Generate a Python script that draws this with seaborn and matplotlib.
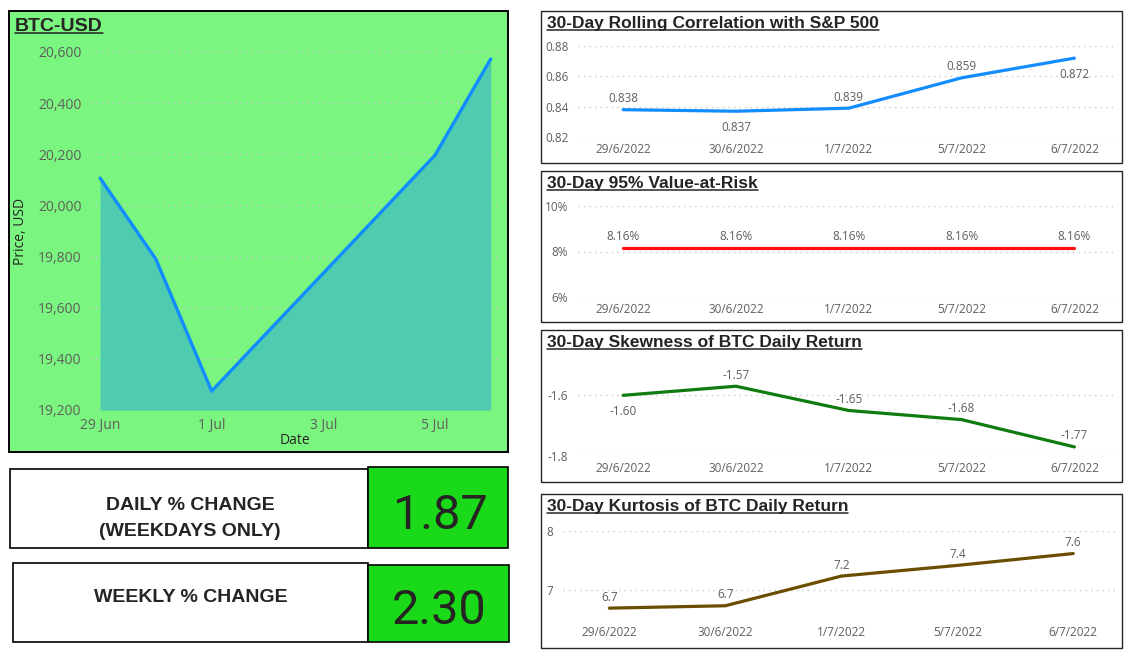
import numpy as np
import pandas as pd
import matplotlib
matplotlib.use("Agg")
import matplotlib.pyplot as plt
import matplotlib.dates as mdates
from matplotlib.patches import Rectangle
from matplotlib.lines import Line2D
from matplotlib.ticker import FuncFormatter
import seaborn as sns


# BTC price (left chart)
btc_dates = pd.to_datetime(["2022-06-29", "2022-06-30", "2022-07-01", "2022-07-05", "2022-07-06"])
btc_price = [20107, 19790, 19274, 20196, 20573]

# 30-day rolling stats (right charts)
day_labels = ["29/6/2022", "30/6/2022", "1/7/2022", "5/7/2022", "6/7/2022"]
corr_sp500 = [0.838, 0.837, 0.839, 0.859, 0.872]
var_95 = [8.16, 8.16, 8.16, 8.16, 8.16]
skewness = [-1.60, -1.57, -1.65, -1.68, -1.77]
kurtosis = [6.70, 6.74, 7.24, 7.42, 7.62]

# KPI cards
daily_change = 1.87
weekly_change = 2.30


sns.set_style("white")
plt.rcParams['font.family'] = ['Open Sans', 'DejaVu Sans']

W, H = 1134, 658
fig = plt.figure(figsize=(W / 100, H / 100), dpi=100)
DARK = "#252423"
GREY = "#605E5C"
titles = []


def frac(x0, y0, x1, y1):
    # pixel box (top-left origin) -> figure fraction
    return [x0 / W, 1 - y1 / H, (x1 - x0) / W, (y1 - y0) / H]


def rect(x0, y0, x1, y1, fc, ec=DARK, lw=1.2):
    fig.add_artist(Rectangle((x0 / W, 1 - y1 / H), (x1 - x0) / W, (y1 - y0) / H,
                             transform=fig.transFigure, facecolor=fc, edgecolor=ec,
                             linewidth=lw, zorder=-1))


def title(x, y, s, size):
    t = fig.text(x / W, 1 - y / H, s, ha="left", va="baseline", fontsize=size,
                 fontweight="bold", color=DARK, family=["Liberation Sans", "DejaVu Sans"])
    titles.append((t, y))


# ---- BTC-USD panel ----
rect(9, 11, 508, 452, "#7AF57F", ec="black", lw=1.4)
title(15, 31, "BTC-USD", 14)

ax = fig.add_axes(frac(90, 52, 498, 410))
ax.set_facecolor("none")
ax.fill_between(btc_dates, btc_price, 19200, color="#4FCBB0", lw=0, zorder=1)
sns.lineplot(x=btc_dates, y=btc_price, ax=ax, color="#118DFF", lw=2.4, zorder=2)
ax.set_xlim(btc_dates[0] - pd.Timedelta(days=0.18), btc_dates[0] + pd.Timedelta(days=7.13))
ax.set_ylim(19200, 20600)
ax.set_yticks(range(19200, 20601, 200))
ax.yaxis.set_major_formatter(FuncFormatter(lambda v, p: f"{v:,.0f}"))
ax.set_xticks(pd.to_datetime(["2022-06-29", "2022-07-01", "2022-07-03", "2022-07-05"]))
ax.xaxis.set_major_formatter(mdates.DateFormatter("%-d %b"))
ax.grid(axis="y", color="#d0d0d0", linestyle=(0, (1, 3)), lw=1)
ax.grid(axis="x", visible=False)
sns.despine(ax=ax, left=True, bottom=True)
ax.tick_params(length=0, labelsize=10, colors=GREY, pad=6)
ax.set_xlabel("")
ax.set_ylabel("")
fig.text(21 / W, 1 - 231 / H, "Price, USD", rotation=90, ha="center", va="center",
         fontsize=10, color=DARK)
fig.text(295 / W, 1 - 440 / H, "Date", ha="center", va="center", fontsize=10, color=DARK)


# ---- right hand metric panels ----
def metric_panel(box, ax_px, values, ylim, yticks, tick_fmt, label_fmt, where, color, name):
    rect(*box, "white", lw=1.0)
    title(box[0] + 6, box[1] + 17, name, 12.5)
    a = fig.add_axes(frac(*ax_px))
    a.set_facecolor("none")
    xs = np.arange(len(values))
    sns.lineplot(x=xs, y=values, ax=a, color=color, lw=2.3)
    for x, v, w in zip(xs, values, where):
        a.annotate(label_fmt(v), (x, v), xytext=(0, 11 if w == "up" else -16),
                   textcoords="offset pixels", ha="center", va="center",
                   fontsize=8.5, color=GREY)
    a.set_xlim(-0.40, 4.36)
    a.set_ylim(*ylim)
    a.set_yticks(yticks)
    a.yaxis.set_major_formatter(FuncFormatter(tick_fmt))
    a.set_xticks(xs)
    a.set_xticklabels(day_labels)
    a.grid(axis="y", color="#c8c8c8", linestyle=(0, (1, 3)), lw=1)
    a.grid(axis="x", visible=False)
    sns.despine(ax=a, left=True, bottom=True)
    a.tick_params(length=0, labelsize=8.5, colors=GREY)
    a.tick_params(axis="x", pad=4)
    a.tick_params(axis="y", pad=7)
    return a


metric_panel((541, 11, 1122, 163), (578, 46, 1115, 137), corr_sp500, (0.82, 0.88),
             [0.82, 0.84, 0.86, 0.88], lambda v, p: f"{v:.2f}", lambda v: f"{v:.3f}",
             ["up", "down", "up", "up", "down"], "#118DFF",
             "30-Day Rolling Correlation with S&P 500")

metric_panel((541, 171, 1122, 322), (578, 206, 1115, 297), var_95, (6, 10),
             [6, 8, 10], lambda v, p: f"{v:.0f}%", lambda v: f"{v:.2f}%",
             ["up"] * 5, "#FF1010", "30-Day 95% Value-at-Risk")

metric_panel((541, 330, 1122, 482), (578, 365, 1115, 456), skewness, (-1.8, -1.5),
             [-1.8, -1.6], lambda v, p: f"{v:g}", lambda v: f"{v:.2f}",
             ["down", "up", "up", "up", "up"], "#107C10",
             "30-Day Skewness of BTC Daily Return")

metric_panel((541, 494, 1122, 648), (563, 531, 1115, 620), kurtosis, (6.5, 8),
             [7, 8], lambda v, p: f"{v:g}", lambda v: f"{v:.1f}",
             ["up"] * 5, "#6B4D00", "30-Day Kurtosis of BTC Daily Return")


# ---- KPI cards ----
kpi_font = ["Liberation Sans", "DejaVu Sans"]
rect(10, 469, 368, 548, "white", ec="black", lw=1.2)
rect(368, 467, 508, 548, "#19D919", ec="black", lw=1.2)
fig.text(190 / W, 1 - 505 / H, "DAILY % CHANGE", ha="center", va="center",
         fontsize=14, fontweight="bold", color=DARK, family=kpi_font)
fig.text(190 / W, 1 - 531 / H, "(WEEKDAYS ONLY)", ha="center", va="center",
         fontsize=14, fontweight="bold", color=DARK, family=kpi_font)
fig.text(440 / W, 1 - 516 / H, f"{daily_change:.2f}", ha="center", va="center",
         fontsize=35, color=DARK, family=["Roboto", "DejaVu Sans"])

rect(13, 563, 368, 642, "white", ec="black", lw=1.2)
rect(368, 565, 509, 642, "#19D919", ec="black", lw=1.2)
fig.text(191 / W, 1 - 598 / H, "WEEKLY % CHANGE", ha="center", va="center",
         fontsize=14, fontweight="bold", color=DARK, family=kpi_font)
fig.text(439 / W, 1 - 611 / H, f"{weekly_change:.2f}", ha="center", va="center",
         fontsize=35, color=DARK, family=["Roboto", "DejaVu Sans"])


# underline the panel titles
fig.canvas.draw()
r = fig.canvas.get_renderer()
for t, y in titles:
    bb = t.get_window_extent(r)
    yy = (H - y - 2) / H
    fig.add_artist(Line2D([bb.x0 / W, bb.x1 / W], [yy, yy], transform=fig.transFigure,
                          color=DARK, lw=1.1))

fig.savefig("out.png", dpi=100)
